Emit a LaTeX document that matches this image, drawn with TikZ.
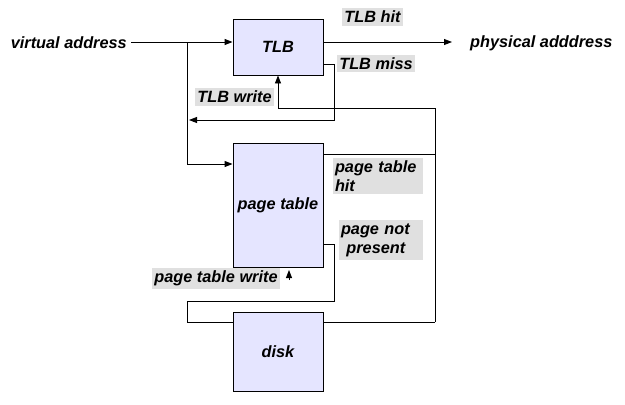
\documentclass[tikz,border=0pt]{standalone}
\usepackage{fontspec}
\setmainfont{Liberation Sans}
\usetikzlibrary{arrows.meta}
\begin{document}
\begin{tikzpicture}[x=1pt,y=-1pt,
  txt/.style={font=\fontsize{16.3}{19}\selectfont\bfseries\itshape},
  lbl/.style={txt, inner sep=0pt},
  blk/.style={txt, draw=black, line width=0.9pt, fill=blue!10!white, inner sep=0pt},
  tag/.style={txt, fill=black!12, inner xsep=2pt, inner ysep=3pt, align=left},
  wire/.style={line width=0.9pt},
  arr/.style={wire, -{Triangle[length=8pt,width=6pt]}}]
\useasboundingbox (0,0) rectangle (625,405);
% blocks
\node[blk, minimum width=90pt, minimum height=56pt] (tlb) at (278,47) {TLB};
\node[blk, minimum width=90pt, minimum height=124pt] (pt) at (278,205) {page table};
\node[blk, minimum width=90pt, minimum height=79pt] (disk) at (278,351.5) {disk};
% free texts
\node[lbl, anchor=east] (va) at (127,43) {virtual address};
\node[lbl, anchor=west] (pa) at (470,43) {physical adddress};
% tags
\node[tag] (hit) at (372.5,17) {TLB hit};
\node[tag] (miss) at (376,63.5) {TLB miss};
\node[tag] (tw) at (234.5,97) {TLB write};
\node[tag, minimum width=90pt, text width=86pt] (pth) at (378,176) {page table\\hit};
\node[tag, minimum width=84pt, text width=80pt] (pnp) at (381,240) {page not\\\ present};
\node[tag] (ptw) at (216,278.5) {page table write};
% coordinates
\coordinate (vaend) at (131,42);
\coordinate (j) at (187,42);
\coordinate (paend) at (452,42);
\coordinate (missx) at (334,64);
\coordinate (missy) at (334,120);
\coordinate (ret) at (189,120);
\coordinate (ptin) at (187,164);
\coordinate (rx) at (435,108);
\coordinate (tw1) at (278,108);
\coordinate (pthx) at (435,154);
\coordinate (dkx) at (435,322);
\coordinate (npx) at (334,244);
\coordinate (npy) at (334,301);
\coordinate (npl) at (187,301);
\coordinate (npd) at (187,322);
\coordinate (ptwa) at (289,280);
\coordinate (ptwb) at (289,270);
% connectors
\draw[arr] (vaend) -- (tlb.west |- vaend);
\draw[wire] (j) -- (ptin);
\draw[arr] (ptin) -- (pt.west |- ptin);
\draw[arr] (tlb.east |- paend) -- (paend);
\draw[arr] (tlb.east |- missx) -- (missx) -- (missy) -- (ret);
\draw[arr] (dkx) -- (rx) -- (tw1) -- (tlb.south);
\draw[wire] (pt.east |- pthx) -- (pthx);
\draw[wire] (disk.east |- dkx) -- (dkx);
\draw[wire] (pt.east |- npx) -- (npx) -- (npy) -- (npl) -- (npd) -- (disk.west |- npd);
\draw[arr] (ptwa) -- (ptwb);
\end{tikzpicture}
\end{document}
